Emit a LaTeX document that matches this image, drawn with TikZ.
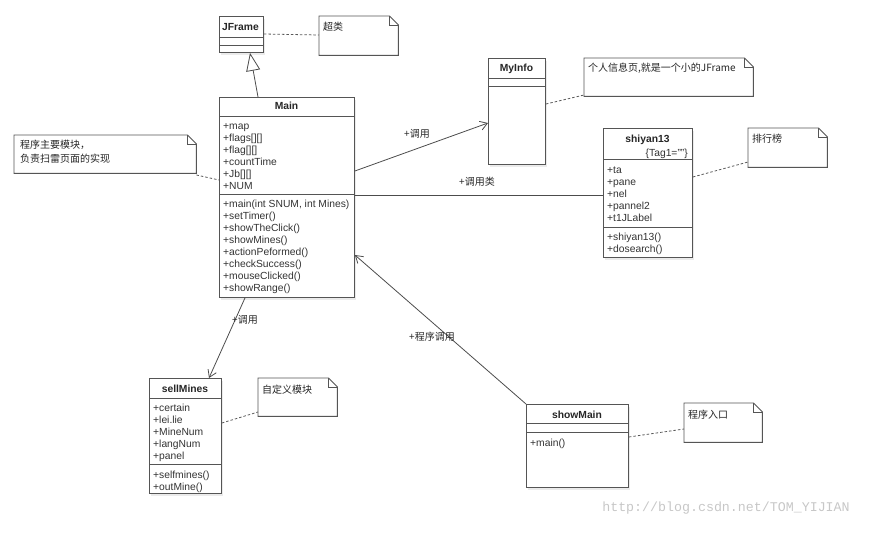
\documentclass[tikz,border=0pt]{standalone}
\usepackage{fontspec}
\setmainfont{Liberation Sans}
\newfontfamily\cjk{Noto Sans CJK SC}
\newfontfamily\wmfont{Liberation Mono}
\usetikzlibrary{arrows.meta,calc}
\definecolor{bord}{HTML}{555555}
\definecolor{txtc}{HTML}{333333}
\definecolor{shad}{HTML}{EBEBEB}
\tikzset{
  cls/.style={draw=bord, line width=0.9pt, fill=white, rectangle, inner sep=0pt},
  notebox/.style={rectangle, inner sep=0pt},
  cline/.style={draw=bord, line width=0.9pt},
  txt/.style={anchor=base west, inner sep=0pt, text=txtc, font=\fontsize{10.3}{12}\selectfont},
  cname/.style={anchor=base, inner sep=0pt, text=black!85, font=\fontsize{10.3}{12}\selectfont\bfseries},
  ntxt/.style={anchor=base west, inner sep=0pt, text=black!85, font=\fontsize{10}{14}\selectfont\cjk},
  lbl/.style={inner sep=0pt, text=black!85, font=\fontsize{10}{12}\selectfont\cjk},
  conn/.style={draw=black!70, line width=0.8pt},
  open/.style={conn, -{Straight Barb[length=7pt,width=9pt,line width=0.8pt]}},
  gen/.style={conn, -{Triangle[open,length=18pt,width=14pt,line width=0.8pt]}},
  link/.style={draw=black!65, line width=0.8pt, dash pattern=on 2.5pt off 2pt},
}
\newcommand\umlnote[6]{%
  \node[notebox, minimum width=#4, minimum height=#5, anchor=north west] (#1) at (#2,#3) {};
  \draw[bord, line width=0.9pt, fill=white] (#1.south west) -- (#1.north west) -- ([xshift=-9pt]#1.north east)
     -- ([yshift=-9pt]#1.north east) -- (#1.south east) -- cycle;
  \draw[bord, line width=0.9pt] ([xshift=-9pt]#1.north east) -- ([xshift=-9pt,yshift=-9pt]#1.north east)
     -- ([yshift=-9pt]#1.north east);
  #6}
\newcommand\umlclass[5]{%
  \fill[shad] (#2+2,#3+3) rectangle ++(#4,#5);
  \node[cls, minimum width=#4, minimum height=#5, anchor=north west] (#1) at (#2,#3) {};}
\begin{document}
\begin{tikzpicture}[x=1pt,y=-1pt]
\useasboundingbox (0,0) rectangle (873,535);

% ---------- JFrame ----------
\umlclass{jframe}{219}{16}{44}{36}
\draw[cline] (jframe.west |- 0,37) -- (jframe.east |- 0,37);
\draw[cline] (jframe.west |- 0,45) -- (jframe.east |- 0,45);
\node[cname, anchor=base west] (jframeN) at (222,31) {JFrame};

% ---------- Main ----------
\umlclass{main}{219}{97}{135}{200}
\draw[cline] (main.west |- 0,116) -- (main.east |- 0,116);
\draw[cline] (main.west |- 0,194) -- (main.east |- 0,194);
\node[cname] (mainN) at (286.5,110) {Main};
\foreach [count=\i] \t in {+map,+flags[][],+flag[][],+countTime,+Jb[][],+NUM}
  \node[txt] (mainA\i) at (223,{129+12*(\i-1)}) {\t};
\foreach [count=\i] \t in {{+main(int SNUM, int Mines)},+setTimer(),+showTheClick(),+showMines(),+actionPeformed(),+checkSuccess(),+mouseClicked(),+showRange()}
  \node[txt] (mainM\i) at (223,{207+12*(\i-1)}) {\t};

% ---------- MyInfo ----------
\umlclass{myinfo}{488}{58}{57}{106}
\draw[cline] (myinfo.west |- 0,78) -- (myinfo.east |- 0,78);
\draw[cline] (myinfo.west |- 0,86) -- (myinfo.east |- 0,86);
\node[cname] (myinfoN) at (516.5,72) {MyInfo};

% ---------- shiyan13 ----------
\umlclass{shiyan}{603}{128}{89}{129}
\draw[cline] (shiyan.west |- 0,159) -- (shiyan.east |- 0,159);
\draw[cline] (shiyan.west |- 0,227) -- (shiyan.east |- 0,227);
\node[cname] (shiyanN) at (647.5,142) {shiyan13};
\node[txt, anchor=base east] (shiyanT) at (688,156) {\{Tag1=""\}};
\foreach [count=\i] \t in {+ta,+pane,+nel,+pannel2,+t1JLabel}
  \node[txt] (shiyanA\i) at (607,{173+12*(\i-1)}) {\t};
\foreach [count=\i] \t in {+shiyan13(),+dosearch()}
  \node[txt] (shiyanM\i) at (607,{240+12*(\i-1)}) {\t};

% ---------- sellMines ----------
\umlclass{sell}{149}{378}{72}{115}
\draw[cline] (sell.west |- 0,398) -- (sell.east |- 0,398);
\draw[cline] (sell.west |- 0,464) -- (sell.east |- 0,464);
\node[cname] (sellN) at (185,392) {sellMines};
\foreach [count=\i] \t in {+certain,+lei.lie,+MineNum,+langNum,+panel}
  \node[txt] (sellA\i) at (153,{411+12*(\i-1)}) {\t};
\foreach [count=\i] \t in {+selfmines(),+outMine()}
  \node[txt] (sellM\i) at (153,{478+12*(\i-1)}) {\t};

% ---------- showMain ----------
\umlclass{showmain}{526}{404}{102}{83}
\draw[cline] (showmain.west |- 0,423) -- (showmain.east |- 0,423);
\draw[cline] (showmain.west |- 0,432) -- (showmain.east |- 0,432);
\node[cname] (showmainN) at (577,418) {showMain};
\node[txt] (showmainM1) at (530,446) {+main()};

% ---------- notes ----------
\umlnote{n1}{319}{16}{79}{39}{\node[ntxt] (n1t) at (323,31) {超类};}
\umlnote{n2}{14}{135}{182}{38}{\node[ntxt] (n2t) at (20,148) {程序主要模块，}; \node[ntxt] (n2u) at (20,162) {负责扫雷页面的实现};}
\umlnote{n3}{584}{58}{169}{38}{\node[ntxt] (n3t) at (588,72) {个人信息页,就是一个小的JFrame};}
\umlnote{n4}{748}{128}{79}{39}{\node[ntxt] (n4t) at (752,142) {排行榜};}
\umlnote{n5}{258}{378}{79}{38}{\node[ntxt] (n5t) at (262,393) {自定义模块};}
\umlnote{n6}{684}{403}{78}{39}{\node[ntxt] (n6t) at (688,418) {程序入口};}

% ---------- note links ----------
\draw[link] (jframe.east |- 0,34) -- (n1.west |- 0,35);
\draw[link] (n2.east |- 0,175) -- (main.west |- 0,180);
\draw[link] (myinfo.east |- 0,104) -- (n3.west |- 0,95);
\draw[link] (shiyan.east |- 0,177) -- (n4.west |- 0,162);
\draw[link] (sell.east |- 0,423) -- (n5.west |- 0,412);
\draw[link] (showmain.east |- 0,437) -- (n6.west |- 0,429);

% ---------- connectors ----------
\draw[gen] (main.north -| 258,0) -- (jframe.south -| 250,0);
\draw[open] (main.east |- 0,171) -- (myinfo.west |- 0,123);
\node[lbl] (l1) at (417,134) {+调用};
\draw[conn] (main.east |- 0,195) -- (shiyan.west |- 0,195);
\node[lbl] (l2) at (477,182) {+调用类};
\draw[open] (main.south -| 245,0) -- (sell.north -| 209,0);
\node[lbl, anchor=west] (l3) at (232,320) {+调用};
\draw[open] (showmain.north west) -- (main.east |- 0,255);
\node[lbl] (l4) at (432,337) {+程序调用};

% ---------- watermark ----------
\node[inner sep=0pt, text=black!22, font=\fontsize{13.3}{14}\selectfont\wmfont] (wm) at (726,508) {http://blog.csdn.net/TOM\_YIJIAN};
\end{tikzpicture}
\end{document}
